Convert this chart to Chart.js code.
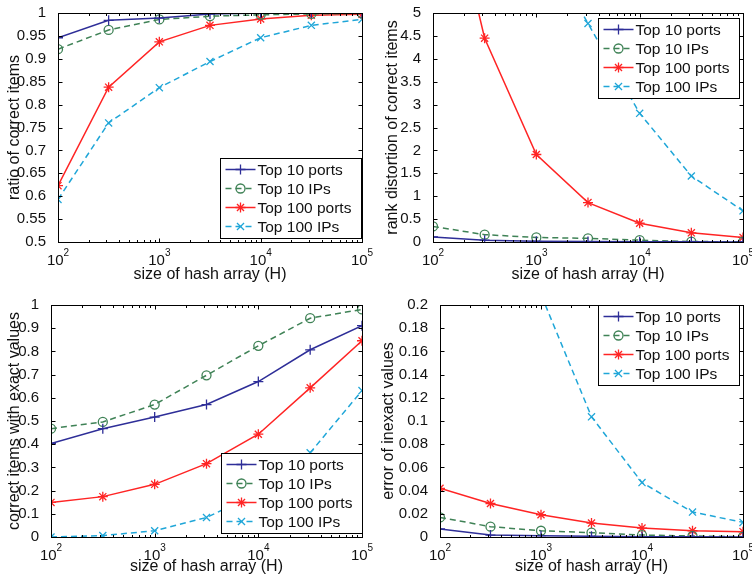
<!DOCTYPE html>
<html>
<head>
<meta charset="utf-8">
<script src="https://cdn.jsdelivr.net/npm/chart.js@4.4.0/dist/chart.umd.min.js"></script>
<style>
    html, body { margin: 0; padding: 0; background: #fff; }
    #quadro { position: relative; width: 752px; height: 584px; }
    .celula { position: absolute; width: 376px; height: 292px; }
</style>
</head>
<body>
<div id="quadro">
    <div class="celula" style="left:0;top:0"><canvas id="graficoRazao" width="376" height="292"></canvas></div>
    <div class="celula" style="left:376px;top:0"><canvas id="graficoDistorcao" width="376" height="292"></canvas></div>
    <div class="celula" style="left:0;top:292px"><canvas id="graficoExatos" width="376" height="292"></canvas></div>
    <div class="celula" style="left:376px;top:292px"><canvas id="graficoErro" width="376" height="292"></canvas></div>
</div>
<script>
// Dados
const tamanhosHash = [100, 316, 1000, 3162, 10000, 31623, 100000];
const nomesSeries = ['Top 10 ports', 'Top 10 IPs', 'Top 100 ports', 'Top 100 IPs'];
const expoentesX = ['2', '3', '4', '5'];

// ratio of correct items
const razaoPortas10 = [0.946, 0.984, 0.989, 0.998, 1.0, 1.0, 1.0];
const razaoIPs10 = [0.921, 0.963, 0.986, 0.993, 0.996, 0.998, 0.999];
const razaoPortas100 = [0.623, 0.838, 0.937, 0.973, 0.987, 0.995, 0.997];
const razaoIPs100 = [0.593, 0.760, 0.837, 0.894, 0.946, 0.973, 0.986];

// rank distortion of correct items
const distorcaoPortas10 = [0.11, 0.04, 0.015, 0.01, 0.005, 0.003, 0.002];
const distorcaoIPs10 = [0.34, 0.16, 0.10, 0.08, 0.04, 0.01, 0.005];
const distorcaoPortas100 = [9.2, 4.45, 1.91, 0.86, 0.41, 0.2, 0.1];
const distorcaoIPs100 = [25, 12, 6.77, 4.77, 2.81, 1.44, 0.68];

// correct items with exact values
const exatosPortas10 = [0.403, 0.467, 0.517, 0.571, 0.670, 0.807, 0.911];
const exatosIPs10 = [0.467, 0.496, 0.571, 0.697, 0.824, 0.943, 0.981];
const exatosPortas100 = [0.149, 0.174, 0.227, 0.316, 0.443, 0.643, 0.846];
const exatosIPs100 = [0.0, 0.006, 0.027, 0.084, 0.19, 0.363, 0.631];

// error of inexact values
const erroPortas10 = [0.0069, 0.0017, 0.0011, 0.0006, 0.0003, 0.0002, 0.0001];
const erroIPs10 = [0.0169, 0.0089, 0.0054, 0.0037, 0.0017, 0.0009, 0.0003];
const erroPortas100 = [0.042, 0.0289, 0.0192, 0.012, 0.0077, 0.0054, 0.0046];
const erroIPs100 = [0.55, 0.35, 0.209, 0.1036, 0.0469, 0.0215, 0.0126];

// Configurações globais
const FONTE = "'Liberation Sans', Arial, Helvetica, sans-serif";
Chart.defaults.font.family = FONTE;
Chart.defaults.font.size = 15;
Chart.defaults.color = '#111';
Chart.defaults.animation = false;

// Estilo de cada série (cor, traço, marcador)
const estilos = [
    { cor: '#2e2e98', traco: [], marcador: 'cross', raio: 5 },
    { cor: '#3f8256', traco: [6, 4], marcador: 'circle', raio: 4.5 },
    { cor: '#ff2424', traco: [], marcador: 'star', raio: 5 },
    { cor: '#1fa6d8', traco: [6, 4], marcador: 'crossRot', raio: 5 }
];

function montarSeries(listas) {
    return listas.map((valores, i) => ({
        label: nomesSeries[i],
        data: tamanhosHash.map((h, k) => ({ x: h, y: valores[k] })),
        borderColor: estilos[i].cor,
        backgroundColor: estilos[i].cor,
        borderWidth: 1.5,
        borderDash: estilos[i].traco,
        pointStyle: estilos[i].marcador,
        pointRadius: estilos[i].raio,
        pointBorderColor: estilos[i].cor,
        pointBackgroundColor: 'rgba(0,0,0,0)',
        pointBorderWidth: 1.3,
        tension: 0,
        fill: false
    }));
}

// Eixos no estilo MATLAB: caixa, marcas internas, rótulos 10^n e legenda
const eixoMatlab = {
    id: 'eixoMatlab',
    afterDraw(chart, args, op) {
        const { ctx, chartArea: a, scales: { x, y } } = chart;
        ctx.save();
        ctx.strokeStyle = '#000';
        ctx.lineWidth = 1;
        ctx.setLineDash([]);
        const traco = (x1, y1, x2, y2) => {
            ctx.beginPath(); ctx.moveTo(x1, y1); ctx.lineTo(x2, y2); ctx.stroke();
        };
        const L = Math.round(a.left) + 0.5, R = Math.round(a.right) + 0.5;
        const T = Math.round(a.top) + 0.5, B = Math.round(a.bottom) + 0.5;

        // marcas do eixo y (dos dois lados)
        y.ticks.forEach(t => {
            const py = Math.round(y.getPixelForValue(t.value)) + 0.5;
            traco(L, py, L + 4, py);
            traco(R, py, R - 4, py);
        });

        // marcas do eixo x logarítmico (maiores e menores)
        for (let d = 2; d <= 5; d++) {
            for (let m = 1; m <= 9; m++) {
                const v = m * Math.pow(10, d);
                if (v > x.max) break;
                const px = Math.round(x.getPixelForValue(v)) + 0.5;
                const tam = m === 1 ? 4 : 2.5;
                traco(px, B, px, B - tam);
                traco(px, T, px, T + tam);
            }
        }

        // rótulos 10^n
        ctx.fillStyle = '#111';
        ctx.textBaseline = 'alphabetic';
        expoentesX.forEach((e, i) => {
            const px = x.getPixelForValue(Math.pow(10, i + 2));
            ctx.font = '15px ' + FONTE;
            const w1 = ctx.measureText('10').width;
            ctx.font = '10px ' + FONTE;
            const w2 = ctx.measureText(e).width;
            const x0 = px - (w1 + w2) / 2;
            ctx.font = '15px ' + FONTE;
            ctx.textAlign = 'left';
            ctx.fillText('10', x0, a.bottom + 23);
            ctx.font = '10px ' + FONTE;
            ctx.fillText(e, x0 + w1, a.bottom + 14);
        });

        // caixa
        ctx.strokeRect(L, T, R - L, B - T);

        // legenda
        const lw = 141, lh = 80;
        const lx = Math.round(a.right - op.dx - lw) + 0.5;
        const ly = op.canto === 'se'
            ? Math.round(a.bottom - op.dy - lh) + 0.5
            : Math.round(a.top + op.dy) + 0.5;
        ctx.fillStyle = '#fff';
        ctx.fillRect(lx, ly, lw, lh);
        ctx.strokeRect(lx, ly, lw, lh);
        chart.data.datasets.forEach((ds, i) => {
            const cy = ly + 11 + i * 19;
            ctx.strokeStyle = ds.borderColor;
            ctx.lineWidth = 1.5;
            ctx.setLineDash(ds.borderDash);
            traco(lx + 5, cy, lx + 35, cy);
            ctx.setLineDash([]);
            ctx.lineWidth = ds.pointBorderWidth;
            ctx.fillStyle = 'rgba(0,0,0,0)';
            Chart.helpers.drawPoint(ctx, {
                pointStyle: ds.pointStyle, radius: ds.pointRadius,
                rotation: 0, borderWidth: ds.pointBorderWidth
            }, lx + 20, cy);
            ctx.fillStyle = '#111';
            ctx.font = '15.5px ' + FONTE;
            ctx.textAlign = 'left';
            ctx.textBaseline = 'middle';
            ctx.fillText(ds.label, lx + 37, cy + 1);
        });
        ctx.restore();
    }
};

function rotuloY(v) {
    return String(parseFloat(v.toFixed(3)));
}

function criarGrafico(canvasId, cfg) {
    const canvas = document.getElementById(canvasId);
    if (!canvas) return null;
    return new Chart(canvas.getContext('2d'), {
        type: 'line',
        data: { datasets: montarSeries(cfg.series) },
        options: {
            responsive: false,
            layout: { padding: { top: cfg.topo, right: cfg.direita, left: 0, bottom: 0 } },
            plugins: {
                legend: { display: false },
                tooltip: { enabled: false },
                eixoMatlab: cfg.legenda
            },
            scales: {
                x: {
                    type: 'logarithmic',
                    min: 100,
                    max: 100000,
                    grid: { display: false },
                    border: { display: false },
                    ticks: { display: false },
                    title: {
                        display: true,
                        text: 'size of hash array (H)',
                        font: { size: 16 },
                        padding: { top: 0, bottom: 8 }
                    },
                    afterFit: s => { s.height = cfg.alturaX; }
                },
                y: {
                    min: cfg.yMin,
                    max: cfg.yMax,
                    grid: { display: false },
                    border: { display: false },
                    ticks: { stepSize: cfg.passo, padding: 4, callback: rotuloY },
                    title: {
                        display: true,
                        text: cfg.tituloY,
                        font: { size: 16 },
                        padding: { top: cfg.margemTitulo, bottom: 0 }
                    },
                    afterFit: s => { s.width = cfg.larguraY; }
                }
            }
        },
        plugins: [eixoMatlab]
    });
}

criarGrafico('graficoRazao', {
    series: [razaoPortas10, razaoIPs10, razaoPortas100, razaoIPs100],
    tituloY: 'ratio of correct items',
    yMin: 0.5, yMax: 1, passo: 0.05,
    topo: 10, direita: 14, larguraY: 58, alturaX: 50, margemTitulo: 5,
    legenda: { canto: 'se', dx: 1, dy: 4 }
});

criarGrafico('graficoDistorcao', {
    series: [distorcaoPortas10, distorcaoIPs10, distorcaoPortas100, distorcaoIPs100],
    tituloY: 'rank distortion of correct items',
    yMin: 0, yMax: 5, passo: 0.5,
    topo: 9, direita: 9, larguraY: 57, alturaX: 50, margemTitulo: 7,
    legenda: { canto: 'ne', dx: 4, dy: 5 }
});

criarGrafico('graficoExatos', {
    series: [exatosPortas10, exatosIPs10, exatosPortas100, exatosIPs100],
    tituloY: 'correct items with exact values',
    yMin: 0, yMax: 1, passo: 0.1,
    topo: 11, direita: 14, larguraY: 51, alturaX: 47, margemTitulo: 5,
    legenda: { canto: 'se', dx: 0, dy: 4 }
});

criarGrafico('graficoErro', {
    series: [erroPortas10, erroIPs10, erroPortas100, erroIPs100],
    tituloY: 'error of inexact values',
    yMin: 0, yMax: 0.2, passo: 0.02,
    topo: 13, direita: 9, larguraY: 64, alturaX: 47, margemTitulo: 3,
    legenda: { canto: 'ne', dx: 4, dy: 0 }
});
</script>
</body>
</html>
